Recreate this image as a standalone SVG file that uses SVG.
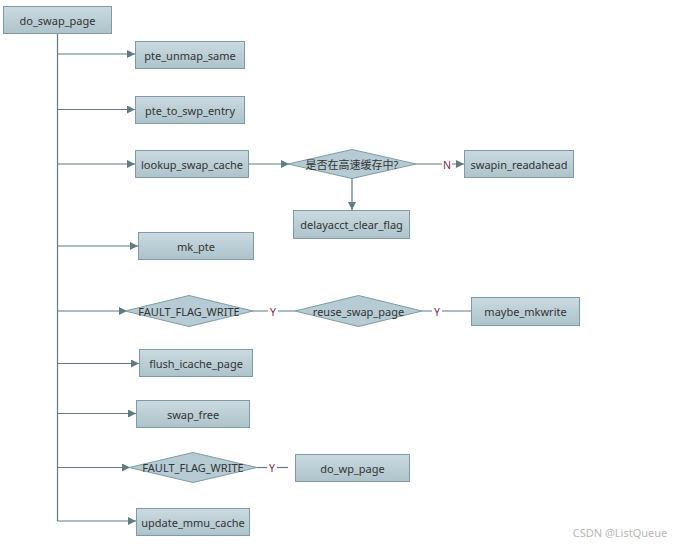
<svg xmlns="http://www.w3.org/2000/svg" width="681" height="546" viewBox="0 0 681 546">
<defs>
<linearGradient id="g" x1="0" y1="0" x2="0" y2="1">
<stop offset="0" stop-color="#cbdae0"/>
<stop offset="1" stop-color="#adc3cb"/>
</linearGradient>
<marker id="a" viewBox="0 0 10 10" refX="10" refY="5" markerWidth="9" markerHeight="8" markerUnits="userSpaceOnUse" orient="auto">
<path d="M0,0 L10,5 L0,10 z" fill="#5f7b84"/>
</marker>
<style>
rect.n{fill:url(#g);stroke:#7d9ca6;stroke-width:1}
polygon.d{fill:#b6cbd3;stroke:#7d9ca6;stroke-width:1}
text{font-family:"Noto Sans","Noto Sans CJK SC",sans-serif;font-size:11px;fill:#333;text-anchor:middle;dominant-baseline:central}
text.l{fill:#7a2b50;font-size:10.5px}
.c line,.c path{stroke:#5f7b84;stroke-width:1.2;fill:none}
.c .ar{marker-end:url(#a)}
rect.bg{fill:#fff;stroke:none}
</style>
</defs>
<rect width="681" height="546" fill="#fff"/>
<g class="c" id="connectors">
<line x1="57.5" y1="33" x2="57.5" y2="521"/>
<line class="ar" x1="57.5" y1="54" x2="135" y2="54"/>
<line class="ar" x1="57.5" y1="109.5" x2="135" y2="109.5"/>
<line class="ar" x1="57.5" y1="164" x2="135" y2="164"/>
<line class="ar" x1="57.5" y1="246" x2="138" y2="246"/>
<line class="ar" x1="57.5" y1="311" x2="127" y2="311"/>
<line class="ar" x1="57.5" y1="363.5" x2="139" y2="363.5"/>
<line class="ar" x1="57.5" y1="413.5" x2="136" y2="413.5"/>
<line class="ar" x1="57.5" y1="467.5" x2="130" y2="467.5"/>
<line class="ar" x1="57.5" y1="521" x2="136" y2="521"/>
<line class="ar" x1="249" y1="164" x2="289" y2="164"/>
<line class="ar" x1="416" y1="164" x2="464" y2="164"/>
<line class="ar" x1="352" y1="179" x2="352" y2="210"/>
<line x1="253" y1="311" x2="295" y2="311"/>
<line x1="422" y1="311" x2="472" y2="311"/>
<line x1="257" y1="467.5" x2="288" y2="467.5"/>
<rect class="bg" x="442" y="157" width="10" height="14"/>
<text class="l" x="447" y="164.5">N</text>
<rect class="bg" x="268" y="304" width="10" height="14"/>
<text class="l" x="273" y="311.5">Y</text>
<rect class="bg" x="432" y="304" width="10" height="14"/>
<text class="l" x="437" y="311.5">Y</text>
<rect class="bg" x="267" y="460.5" width="10" height="14"/>
<text class="l" x="272" y="468">Y</text>
</g>
<g id="do_swap_page"><rect class="n" x="3.5" y="6.5" width="108" height="27"/><text x="57.5" y="20">do_swap_page</text></g>
<g id="pte_unmap_same"><rect class="n" x="135.5" y="41.5" width="109" height="27"/><text x="190" y="55">pte_unmap_same</text></g>
<g id="pte_to_swp_entry"><rect class="n" x="135.5" y="96.5" width="109" height="27"/><text x="190" y="110">pte_to_swp_entry</text></g>
<g id="lookup_swap_cache"><rect class="n" x="135.5" y="150.5" width="113" height="27"/><text x="192" y="164">lookup_swap_cache</text></g>
<g id="in_cache"><polygon class="d" points="352,149.5 416,164 352,178.5 288,164"/><text x="352" y="164">是否在高速缓存中?</text></g>
<g id="swapin_readahead"><rect class="n" x="464.5" y="150.5" width="109" height="27"/><text x="519" y="164">swapin_readahead</text></g>
<g id="delayacct_clear_flag"><rect class="n" x="293.5" y="210.5" width="116" height="28"/><text x="351.5" y="224.5">delayacct_clear_flag</text></g>
<g id="mk_pte"><rect class="n" x="138.5" y="232.5" width="115" height="27"/><text x="196" y="246">mk_pte</text></g>
<g id="fault_flag_write_1"><polygon class="d" points="189,295.5 253,311 189,326.5 125,311"/><text x="189" y="311">FAULT_FLAG_WRITE</text></g>
<g id="reuse_swap_page"><polygon class="d" points="358.5,295.5 422,311 358.5,326.5 295,311"/><text x="358.5" y="311">reuse_swap_page</text></g>
<g id="maybe_mkwrite"><rect class="n" x="471.5" y="297.5" width="108" height="28"/><text x="525.5" y="311.5">maybe_mkwrite</text></g>
<g id="flush_icache_page"><rect class="n" x="139.5" y="349.5" width="113" height="27"/><text x="196" y="363">flush_icache_page</text></g>
<g id="swap_free"><rect class="n" x="136.5" y="400.5" width="113" height="27"/><text x="193" y="414">swap_free</text></g>
<g id="fault_flag_write_2"><polygon class="d" points="193,452.5 257,467.5 193,482.5 129,467.5"/><text x="193" y="467.5">FAULT_FLAG_WRITE</text></g>
<g id="do_wp_page"><rect class="n" x="295.5" y="454.5" width="114" height="27"/><text x="352.5" y="468">do_wp_page</text></g>
<g id="update_mmu_cache"><rect class="n" x="136.5" y="508.5" width="113" height="27"/><text x="193" y="522">update_mmu_cache</text></g>
<text x="620" y="532" style="font-size:11px;fill:#b8b8b8">CSDN @ListQueue</text>
</svg>
